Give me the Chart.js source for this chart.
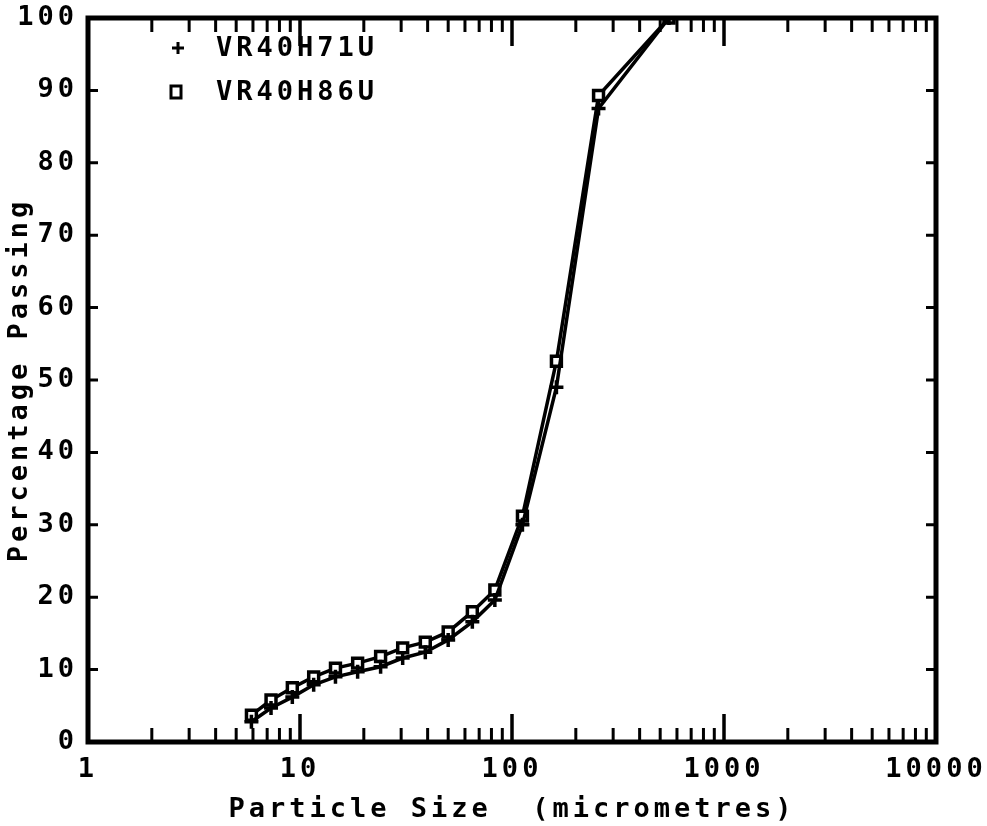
<!DOCTYPE html>
<html>
<head>
<meta charset="utf-8">
<script src="https://cdn.jsdelivr.net/npm/chart.js@4.4.0/dist/chart.umd.min.js"></script>
<style>
  html, body { margin: 0; padding: 0; background: #fff; }
  #wrap { width: 987px; height: 826px; }
</style>
</head>
<body>
<div id="wrap"><canvas id="psd"></canvas></div>
<script>
// particle size (micrometres) and percentage passing
const sizes = [5.9, 7.3, 9.2, 11.6, 14.7, 18.7, 24, 30.5, 39, 50, 65, 83, 112, 162, 256, 550];
const passH71 = [2.8, 4.7, 6.2, 7.9, 9.0, 9.7, 10.4, 11.6, 12.4, 14.1, 16.6, 19.6, 30.0, 49.0, 87.5, 100];
const passH86 = [3.7, 5.8, 7.5, 9.0, 10.2, 10.9, 11.8, 13.0, 13.8, 15.2, 18.0, 21.0, 31.2, 52.6, 89.3, 100];
const seriesNames = ['VR40H71U', 'VR40H86U'];
const xTickLabels = [1, 10, 100, 1000, 10000];
const yTickLabels = [0, 10, 20, 30, 40, 50, 60, 70, 80, 90, 100];

const FONT = "'DejaVu Sans Mono', monospace";
const FSIZE = 27;
const SPACING = '4px';

const toPoints = (xs, ys) => xs.map((x, i) => ({ x: x, y: ys[i] }));

// plotter-like look: letter spacing, thick frame, inward ticks, legend in the corner
const plotterLook = {
  id: 'plotterLook',
  beforeLayout(chart) { chart.ctx.letterSpacing = SPACING; },
  beforeDraw(chart) { chart.ctx.letterSpacing = SPACING; },
  afterDraw(chart) {
    const ctx = chart.ctx;
    const a = chart.chartArea;
    const xs = chart.scales.x, ys = chart.scales.y;
    ctx.save();
    ctx.strokeStyle = '#000';
    ctx.lineCap = 'butt';

    // x ticks, bottom and top
    ctx.lineWidth = 3;
    for (let d = 1; d <= 1000; d *= 10) {
      for (let k = 1; k <= 10; k++) {
        const px = xs.getPixelForValue(d * k);
        const len = (k === 1 || k === 10) ? 28 : 14;
        ctx.beginPath();
        ctx.moveTo(px, a.bottom); ctx.lineTo(px, a.bottom - len);
        ctx.moveTo(px, a.top); ctx.lineTo(px, a.top + len);
        ctx.stroke();
      }
    }
    // y ticks, left and right
    yTickLabels.forEach(v => {
      const py = ys.getPixelForValue(v);
      ctx.beginPath();
      ctx.moveTo(a.left, py); ctx.lineTo(a.left + 10, py);
      ctx.moveTo(a.right, py); ctx.lineTo(a.right - 10, py);
      ctx.stroke();
    });

    // frame
    ctx.lineWidth = 5;
    ctx.strokeRect(a.left, a.top, a.right - a.left, a.bottom - a.top);

    // legend
    ctx.letterSpacing = SPACING;
    ctx.font = 'bold ' + FSIZE + 'px ' + FONT;
    ctx.fillStyle = '#000';
    ctx.textBaseline = 'middle';
    ctx.textAlign = 'left';
    ctx.lineWidth = 3;
    ctx.beginPath();
    ctx.moveTo(172, 48); ctx.lineTo(184, 48);
    ctx.moveTo(178, 42); ctx.lineTo(178, 54);
    ctx.stroke();
    ctx.fillText(seriesNames[0], 216, 49);
    ctx.strokeRect(171, 86, 10, 12);
    ctx.fillText(seriesNames[1], 216, 93);
    ctx.restore();
  }
};

const axisFont = { family: FONT, size: FSIZE, weight: 'bold' };

new Chart(document.getElementById('psd').getContext('2d'), {
  type: 'line',
  data: {
    datasets: [
      {
        label: seriesNames[0],
        data: toPoints(sizes, passH71),
        borderColor: '#000',
        borderWidth: 3.5,
        pointStyle: 'cross',
        pointRadius: 7,
        pointBorderWidth: 3.5,
        pointBorderColor: '#000',
        tension: 0
      },
      {
        label: seriesNames[1],
        data: toPoints(sizes, passH86),
        borderColor: '#000',
        borderWidth: 3.5,
        pointStyle: 'rect',
        pointRadius: 7,
        pointBorderWidth: 3.5,
        pointBorderColor: '#000',
        pointBackgroundColor: '#fff',
        tension: 0
      }
    ]
  },
  options: {
    responsive: true,
    maintainAspectRatio: false,
    animation: false,
    layout: { padding: { left: 0, right: 51, top: 18, bottom: 0 } },
    plugins: { legend: { display: false }, tooltip: { enabled: false } },
    scales: {
      x: {
        type: 'logarithmic',
        min: 1,
        max: 10000,
        afterBuildTicks: s => { s.ticks = xTickLabels.map(v => ({ value: v })); },
        afterFit: s => { s.height = 84; s.paddingLeft = 0; s.paddingRight = 0; },
        border: { display: false },
        grid: { display: false, drawTicks: false },
        ticks: {
          color: '#000',
          padding: 12,
          maxRotation: 0,
          autoSkip: false,
          font: axisFont,
          callback: v => String(v)
        },
        title: {
          display: true,
          text: 'Particle Size  (micrometres)',
          color: '#000',
          padding: { top: 4, bottom: 0 },
          font: axisFont
        }
      },
      y: {
        min: 0,
        max: 100,
        afterBuildTicks: s => { s.ticks = yTickLabels.map(v => ({ value: v })); },
        afterFit: s => { s.width = 88; s.paddingTop = 0; s.paddingBottom = 0; },
        border: { display: false },
        grid: { display: false, drawTicks: false },
        ticks: {
          color: '#000',
          padding: 10,
          font: axisFont
        },
        title: {
          display: true,
          text: 'Percentage Passing',
          color: '#000',
          padding: { top: 4, bottom: 0 },
          font: axisFont
        }
      }
    }
  },
  plugins: [plotterLook]
});
</script>
</body>
</html>
